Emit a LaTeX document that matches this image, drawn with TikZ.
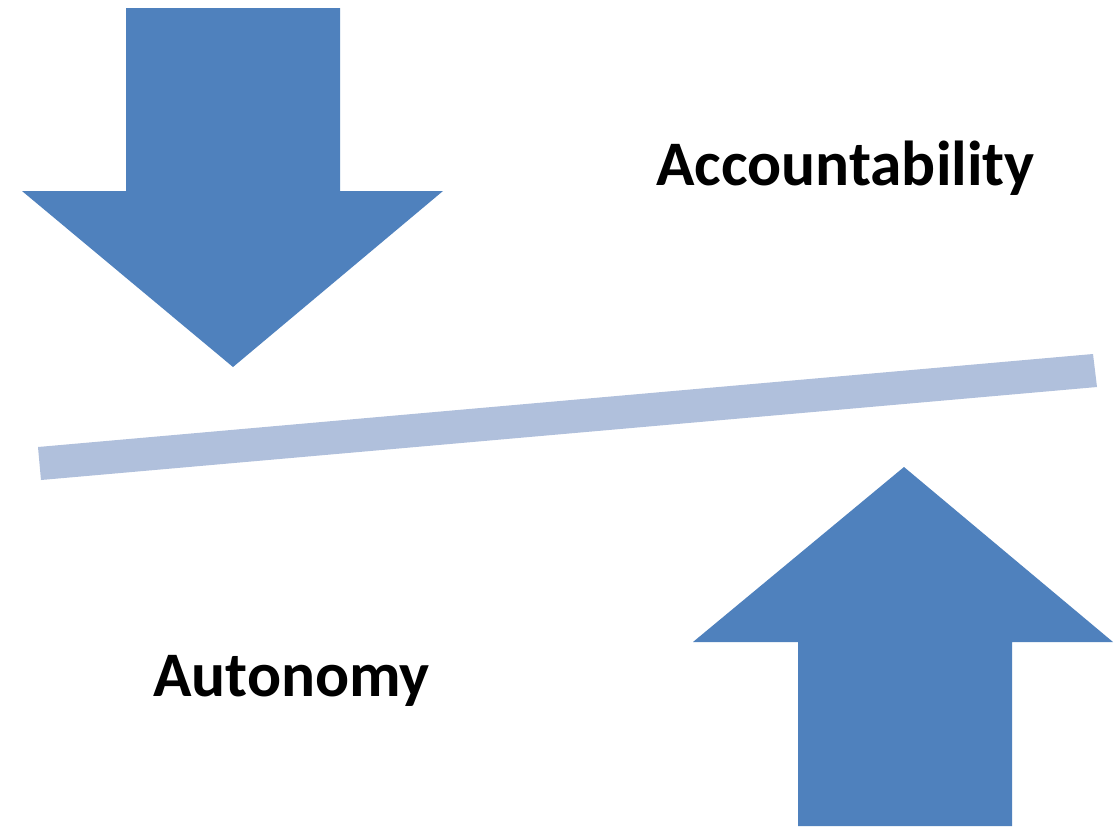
\documentclass[tikz,border=0pt]{standalone}
\usepackage{fontspec}
\setmainfont{Carlito}
\definecolor{arrowblue}{HTML}{4F81BD}
\definecolor{barblue}{HTML}{B0C0DC}
\begin{document}
\begin{tikzpicture}[x=0.75pt,y=-0.75pt,
  arrowshape/.style={fill=arrowblue,draw=none},
  label/.style={font=\fontsize{47.6pt}{54pt}\selectfont\bfseries,inner sep=0pt,anchor=base}]
\useasboundingbox (0,0) rectangle (1114,829);
\fill[white] (0,0) rectangle (1114,829);
% down arrow
\path[arrowshape] (126,8) -- (340,8) -- (340,191) -- (443,191) -- (233,367) -- (22,191) -- (126,191) -- cycle;
% up arrow
\path[arrowshape] (798,826) -- (1012,826) -- (1012,642) -- (1113,642) -- (904,467) -- (693,642) -- (798,642) -- cycle;
% bar
\fill[barblue] (38,447) -- (1093,354) -- (1097,387) -- (41,480) -- cycle;
\node[label] (acc) at (845.5,185) {Accountability};
\node[label] (aut) at (291.5,696) {Autonomy};
\end{tikzpicture}
\end{document}
